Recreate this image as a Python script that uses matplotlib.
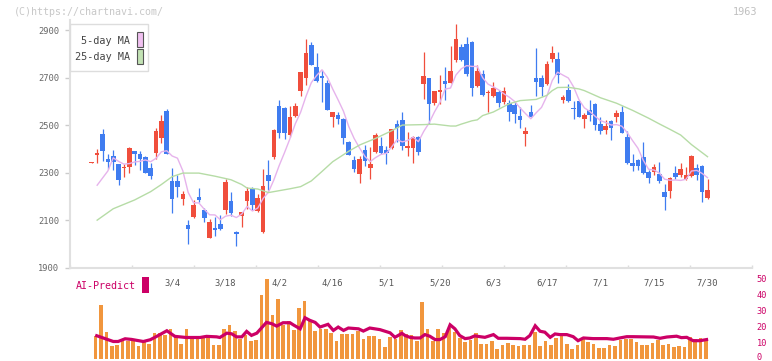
import matplotlib
matplotlib.use('Agg')
import matplotlib.pyplot as plt
import matplotlib.transforms as mtransforms
from matplotlib.patches import Rectangle
import numpy as np
import pandas as pd

W, H, DPI = 772, 361, 100
MONO = 'DejaVu Sans Mono'

# ---------------- data ----------------
opens = [2341, 2375, 2462, 2357, 2370, 2336, 2320, 2322, 2391, 2378,
         2366, 2319, 2384, 2447, 2559, 2263, 2265, 2190, 2080, 2115,
         2197, 2143, 2026, 2067, 2084, 2144, 2181, 2049, 2117, 2181,
         2231, 2140, 2051, 2290, 2367, 2580, 2572, 2458, 2538, 2643,
         2699, 2837, 2744, 2706, 2677, 2534, 2542, 2527, 2429, 2353,
         2295, 2395, 2321, 2385, 2412, 2395, 2404, 2504, 2521, 2404,
         2404, 2451, 2673, 2698, 2593, 2639, 2685, 2677, 2774, 2828,
         2841, 2849, 2664, 2715, 2634, 2622, 2639, 2597, 2592, 2584,
         2538, 2462, 2555, 2698, 2698, 2673, 2778, 2778, 2605, 2647,
         2572, 2601, 2526, 2563, 2589, 2504, 2479, 2517, 2534, 2555,
         2450, 2340, 2353, 2366, 2303, 2303, 2294, 2218, 2223, 2298,
         2290, 2273, 2286, 2319, 2328, 2193]
highs = [2345, 2399, 2482, 2377, 2395, 2338, 2336, 2406, 2393, 2391,
         2370, 2339, 2489, 2542, 2568, 2319, 2290, 2223, 2099, 2184,
         2234, 2152, 2105, 2114, 2122, 2274, 2220, 2054, 2135, 2239,
         2239, 2210, 2315, 2353, 2482, 2605, 2574, 2580, 2591, 2725,
         2862, 2848, 2803, 2732, 2690, 2557, 2555, 2530, 2431, 2370,
         2370, 2416, 2406, 2467, 2451, 2412, 2485, 2520, 2554, 2470,
         2453, 2453, 2807, 2700, 2645, 2711, 2744, 2833, 2925, 2841,
         2870, 2854, 2753, 2732, 2647, 2681, 2647, 2661, 2605, 2597,
         2575, 2492, 2584, 2824, 2711, 2770, 2833, 2807, 2626, 2673,
         2601, 2603, 2551, 2605, 2591, 2534, 2521, 2521, 2563, 2580,
         2475, 2378, 2357, 2429, 2311, 2336, 2345, 2252, 2280, 2328,
         2340, 2324, 2374, 2336, 2330, 2273]
lows = [2341, 2342, 2350, 2315, 2311, 2249, 2283, 2300, 2332, 2311,
        2298, 2273, 2359, 2423, 2378, 2131, 2199, 2165, 1998, 2110,
        2175, 2091, 2024, 2035, 2059, 2125, 2119, 1991, 2072, 2146,
        2143, 2136, 2047, 2227, 2356, 2447, 2440, 2451, 2536, 2623,
        2669, 2752, 2682, 2598, 2563, 2493, 2503, 2419, 2373, 2304,
        2258, 2327, 2272, 2381, 2379, 2336, 2398, 2430, 2395, 2370,
        2340, 2374, 2610, 2504, 2584, 2589, 2605, 2675, 2767, 2771,
        2706, 2621, 2661, 2622, 2555, 2617, 2575, 2589, 2517, 2510,
        2488, 2412, 2533, 2622, 2622, 2669, 2767, 2676, 2593, 2599,
        2526, 2534, 2488, 2517, 2479, 2462, 2462, 2437, 2513, 2465,
        2336, 2307, 2311, 2294, 2256, 2290, 2256, 2143, 2193, 2273,
        2282, 2269, 2282, 2269, 2176, 2191]
closes = [2344, 2383, 2392, 2346, 2346, 2270, 2324, 2404, 2380, 2359,
          2300, 2287, 2475, 2518, 2380, 2190, 2241, 2210, 2063, 2164,
          2184, 2110, 2092, 2060, 2063, 2260, 2129, 2043, 2133, 2223,
          2165, 2192, 2244, 2266, 2479, 2468, 2465, 2533, 2580, 2723,
          2802, 2754, 2685, 2699, 2565, 2555, 2527, 2447, 2374, 2315,
          2357, 2350, 2336, 2458, 2381, 2381, 2483, 2489, 2412, 2412,
          2451, 2387, 2706, 2589, 2643, 2647, 2673, 2727, 2862, 2774,
          2715, 2656, 2727, 2626, 2638, 2656, 2593, 2643, 2555, 2548,
          2521, 2475, 2534, 2681, 2661, 2758, 2803, 2711, 2618, 2601,
          2568, 2534, 2542, 2542, 2500, 2475, 2496, 2488, 2551, 2467,
          2340, 2328, 2328, 2298, 2277, 2324, 2265, 2197, 2277, 2282,
          2315, 2290, 2370, 2290, 2218, 2227]

ma5_head = [2247, 2277, 2307]          # 5-day MA at candles 1..3

ma25_idx = [1, 4, 8, 11, 13, 15, 17, 20, 23, 26, 28, 29, 31, 33, 37, 39, 41,
            43, 45, 48, 50, 53, 56, 58, 62, 64, 67, 68, 69, 71, 72, 73, 75,
            78, 80, 83, 85, 86, 87, 89, 91, 92, 95, 98, 101, 104, 106, 108,
            110, 112, 115]
ma25_val = [2100, 2148, 2185, 2220, 2250, 2283, 2298, 2298, 2285, 2270, 2250,
            2235, 2231, 2216, 2232, 2241, 2265, 2305, 2346, 2390, 2416, 2444,
            2476, 2500, 2502, 2504, 2496, 2496, 2504, 2518, 2522, 2540, 2555,
            2590, 2603, 2608, 2625, 2645, 2658, 2659, 2652, 2645, 2615, 2592,
            2562, 2529, 2505, 2482, 2458, 2418, 2367]

volume = [69, 162, 81, 39, 42, 57, 54, 52, 37, 49,
          45, 78, 78, 72, 90, 65, 45, 90, 65, 65,
          65, 65, 42, 42, 90, 102, 82, 60, 72, 54,
          57, 190, 240, 132, 180, 102, 112, 87, 153, 174,
          117, 84, 90, 90, 78, 54, 75, 75, 75, 84,
          60, 69, 69, 60, 36, 66, 60, 87, 75, 72,
          54, 169, 90, 54, 90, 78, 93, 81, 63, 51,
          57, 78, 45, 45, 54, 30, 42, 48, 42, 39,
          42, 42, 81, 39, 54, 42, 63, 69, 45, 30,
          42, 60, 51, 45, 33, 33, 42, 39, 57, 60,
          60, 51, 42, 42, 48, 57, 42, 45, 36, 39,
          36, 66, 60, 63, 54]          # candles 1..115

ai_idx = [1.2, 4.3, 5.2, 6.5, 7.7, 8.7, 9.9, 11.2, 12.4, 14.3, 15.8, 17.9,
          20.5, 21.7, 23.6, 24.2, 25.5, 26.4, 27.3, 28.3, 29.2, 30.1, 31.1,
          32.9, 33.9, 34.8, 36.0, 37.3, 37.9, 39.2, 40.1, 41.0, 42.0, 42.9,
          44.4, 45.4, 46.3, 47.3, 48.2, 50.1, 51.0, 52.2, 54.1, 56.0, 56.9,
          58.2, 58.8, 59.7, 60.6, 61.6, 62.5, 63.4, 64.4, 65.3, 66.3, 67.2,
          68.1, 69.0, 70.0, 70.9, 71.8, 72.8, 73.7, 75.3, 76.2, 77.8, 80.3,
          81.2, 82.1, 83.1, 84.0, 84.9, 85.9, 86.8, 87.7, 89.0, 90.2, 91.1,
          92.1, 93.9, 96.5, 97.7, 98.9, 100.2, 101.4, 105.2, 106.4, 107.7,
          109.5, 110.4, 111.4, 112.6, 113.9, 115.1]
ai_val = [14.2, 10.6, 10.6, 12.3, 11.9, 11.3, 10.6, 11.7, 13.8, 17.3, 13.8,
          13.1, 13.1, 13.8, 13.5, 13.1, 15.8, 15.4, 13.5, 13.5, 16.9, 14.4,
          15.8, 22.5, 21.7, 20.2, 22.3, 22.3, 21.0, 18.5, 25.4, 23.8, 22.5,
          19.6, 21.3, 17.5, 19.6, 17.5, 19.0, 18.5, 17.1, 19.0, 18.0, 16.0,
          13.2, 15.7, 14.3, 13.2, 12.8, 12.8, 14.9, 13.9, 11.8, 11.8, 13.6,
          21.0, 18.5, 14.3, 12.4, 12.8, 14.1, 13.6, 13.2, 14.9, 12.6, 12.6,
          12.4, 12.0, 14.3, 20.4, 17.0, 16.4, 13.2, 15.3, 14.9, 14.9, 13.6,
          11.1, 12.8, 12.4, 12.4, 12.0, 12.8, 13.6, 13.6, 13.4, 12.6, 13.4,
          13.9, 13.0, 13.2, 11.1, 11.1, 11.8]

date_labels = ['3/4', '3/18', '4/2', '4/16', '5/1', '5/20', '6/3', '6/17',
               '7/1', '7/15', '7/30']
date_idx = [15, 25, 35, 45, 55, 65, 75, 85, 95, 105, 115]

price_ticks = [1900, 2100, 2300, 2500, 2700, 2900]
ai_ticks = [0, 10, 20, 30, 40, 50]

# ---------------- layout helpers ----------------
X0, SP = 91.8, 5.354            # pixel x of first candle, spacing


def rect(x0, y0, x1, y1):
    return [x0 / W, 1 - y1 / H, (x1 - x0) / W, (y1 - y0) / H]


fig = plt.figure(figsize=(W / DPI, H / DPI), dpi=DPI)
fig.patch.set_facecolor('white')

xl = ((70 - X0) / SP, (752 - X0) / SP)

# ---------------- main price panel ----------------
ax = fig.add_axes(rect(70, 20, 752, 267.7))
ax.set_xlim(*xl)
ax.set_ylim(1900, 2900 + 10 * 4.207)
ax.patch.set_alpha(0)

RED, BLUE = '#f04e3c', '#3f7cf0'
n = len(closes)
idx = np.arange(n)
o = np.array(opens, float)
c = np.array(closes, float)
hi = np.array(highs, float)
lo = np.array(lows, float)
up = c >= o
cols = np.where(up, RED, BLUE)
ax.vlines(idx, lo, hi, colors=cols, linewidth=0.9, zorder=3)
body_h = np.maximum(np.abs(c - o), 4)
ax.bar(idx, body_h, bottom=np.minimum(o, c), width=0.86, color=cols,
       linewidth=0, zorder=4)

ma5 = pd.Series(closes, dtype=float).rolling(5).mean().to_numpy()
ma5[1:4] = ma5_head
ax.plot(idx[1:], ma5[1:], color='#e6b3ec', lw=1.0, zorder=5)
ax.plot(ma25_idx, ma25_val, color='#b6dca6', lw=1.0, zorder=5)

for s in ['top', 'right']:
    ax.spines[s].set_visible(False)
for s in ['left', 'bottom']:
    ax.spines[s].set_color('#e0e0e0')
    ax.spines[s].set_linewidth(1.5)
ax.set_yticks(price_ticks)
ax.set_yticklabels([str(t) for t in price_ticks], family=MONO)
ax.tick_params(axis='y', direction='out', length=3.6, width=1,
               color='#cccccc', labelsize=6.3, labelcolor='#666666', pad=4.3)
xt = [(70 + 62 * k - X0) / SP for k in range(12)]
ax.set_xticks(xt)
ax.set_xticklabels([])
ax.tick_params(axis='x', direction='in', length=2.4, width=1, color='#dddddd')

# date labels under the axis
tr = mtransforms.blended_transform_factory(ax.transData, fig.transFigure)
for lab, di in zip(date_labels, date_idx):
    ax.text(di, 1 - 282.5 / H, lab, transform=tr, ha='center', va='center',
            family=MONO, fontsize=6.4, color='#555555', clip_on=False)

# ---------------- volume / AI panel ----------------
axv = fig.add_axes(rect(70, 278.3, 752, 358.5))
axv.set_xlim(*xl)
axv.set_ylim(0, 240.6)
axv.patch.set_alpha(0)
vshift = -0.28
vidx = np.arange(1, len(volume) + 1) + vshift
axv.bar(vidx, volume, width=0.68, color='#f1963d', linewidth=0, zorder=2)
for s in axv.spines.values():
    s.set_visible(False)
axv.set_xticks([])
axv.set_yticks([])

axa = axv.twinx()
axa.set_xlim(*xl)
axa.set_ylim(0, 50)
axa.plot(np.array(ai_idx) + vshift, ai_val, color='#cc0066', lw=2.3,
         solid_joinstyle='miter', zorder=3)
for s in axa.spines.values():
    s.set_visible(False)
axa.set_yticks(ai_ticks)
axa.set_yticklabels([str(t) for t in ai_ticks], family=MONO)
axa.tick_params(axis='y', length=0, labelsize=6.2, labelcolor='#cc0066',
                pad=3.2)
# keep the lowest label ("0") inside the canvas
lift = mtransforms.ScaledTranslation(0, 2.0 / DPI, fig.dpi_scale_trans)
for lab in axa.get_yticklabels():
    if lab.get_text() == '0':
        lab.set_transform(lab.get_transform() + lift)

# ---------------- overlay: legend, captions ----------------
ov = fig.add_axes([0, 0, 1, 1])
ov.set_xlim(0, W)
ov.set_ylim(H, 0)
ov.axis('off')
ov.patch.set_alpha(0)

ov.text(14, 12, '(C)https://chartnavi.com/', family=MONO, fontsize=7.2,
        color='#c8c8c8', va='center', ha='left')
ov.text(757, 12, '1963', family=MONO, fontsize=7.4, color='#c0c0c0',
        va='center', ha='right')

ov.add_patch(Rectangle((70, 24), 78, 47, facecolor='white',
                       edgecolor='#dddddd', lw=1.0, zorder=10))
ov.text(130, 40.5, '5-day MA', family=MONO, fontsize=7.3, color='#444444',
        ha='right', va='center', zorder=11)
ov.text(130, 57, '25-day MA', family=MONO, fontsize=7.3, color='#444444',
        ha='right', va='center', zorder=11)
ov.add_patch(Rectangle((136.5, 31.5), 6, 15, facecolor='#f0c0f0',
                       edgecolor='#555555', lw=0.8, zorder=11))
ov.add_patch(Rectangle((136.5, 48.5), 6, 15, facecolor='#c2e2b4',
                       edgecolor='#555555', lw=0.8, zorder=11))

ov.text(76, 286, 'AI-Predict', family=MONO, fontsize=7.2, color='#cc0066',
        ha='left', va='center')
ov.add_patch(Rectangle((142.3, 277.3), 6.3, 15.3, facecolor='#cc0066',
                       edgecolor='none'))

fig.savefig('out.png', dpi=DPI, facecolor='white')
